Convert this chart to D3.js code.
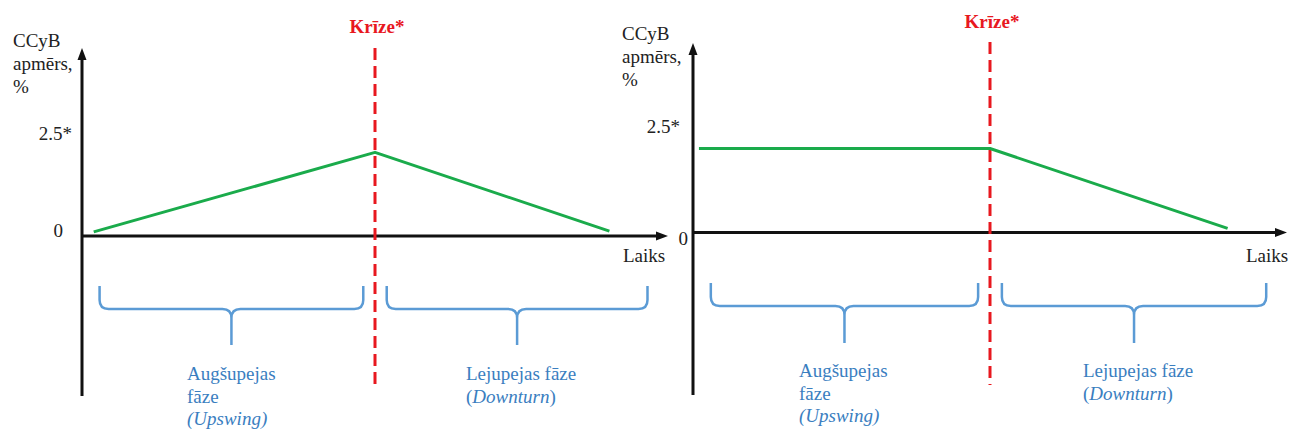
<!DOCTYPE html>
<html>
<head>
<meta charset="utf-8">
<script src="https://cdn.jsdelivr.net/npm/d3@7"></script>
<style>
  html, body { margin: 0; padding: 0; background: #fff; }
  svg { display: block; }
</style>
</head>
<body>
<svg id="chart" width="1291" height="432"></svg>
<script>
// ---- Data ----
const yTickValues = [0, 2.5];
const yTickLabels = ["0", "2.5*"];
const yTitleLines = ["CCyB", "apmērs,", "%"];
const xTitle = "Laiks";
const crisisLabel = "Krīze*";
const crisisTime = 50;
// Left panel: buffer built up gradually during upswing, released after crisis
const leftTimes  = [2, 50, 90];
const leftValues = [0.1, 2.05, 0.12];
// Right panel: buffer kept at a level during upswing, released after crisis
const rightTimes  = [1, 50, 90];
const rightValues = [2.0, 2.0, 0.1];
// Phases (time spans) and labels
const phaseStarts = [3, 52];
const phaseEnds   = [48, 96.5];
const phaseLabelLines = [
  [{t: "Augšupejas"}, {t: "fāze"}, {t: "(Upswing)", italic: true}],
  [{t: "Lejupejas fāze"}, {parts: [{t: "(", i: false}, {t: "Downturn", i: true}, {t: ")", i: false}]}]
];

// ---- Layout ----
const panels = [
  { times: leftTimes, values: leftValues, xRange: [82, 668], zeroY: 236, px25: 102,
    yTop: 48, yBottom: 396, crisisTop: 48, crisisBottom: 385, crisisLabelY: 33,
    titleX: 13, titleY: 47, laiksX: 623, laiksY: 262,
    tickDx: [63, 72], tickDy: [1, 6],
    braceTop: 286, braceMid: 309, braceBottom: 345,
    phaseTextX: [187, 466], phaseTextY: 380 },
  { times: rightTimes, values: rightValues, xRange: [693, 1287], zeroY: 232.5, px25: 105,
    yTop: 43, yBottom: 395, crisisTop: 42, crisisBottom: 385, crisisLabelY: 28,
    titleX: 622, titleY: 40, laiksX: 1246, laiksY: 262,
    tickDx: [688, 680], tickDy: [12.5, 5.5],
    braceTop: 283, braceMid: 306, braceBottom: 343,
    phaseTextX: [799, 1083], phaseTextY: 377 }
];

const FONT = "Liberation Serif";
const svg = d3.select("#chart");
const black = "#111";
const green = "#1aab4b";
const red = "#e8181f";
const braceColor = "#5b9bd5";
const blueText = "#3a7ebf";
const fs = 19;

function txt(g, x, y) {
  return g.append("text").attr("x", x).attr("y", y).attr("font-family", FONT).attr("font-size", fs);
}

panels.forEach(p => {
  const x = d3.scaleLinear().domain([0, 100]).range(p.xRange);
  const y = d3.scaleLinear().domain([0, 2.5]).range([p.zeroY, p.zeroY - p.px25]);
  const g = svg.append("g");
  const x0 = p.xRange[0], x1 = p.xRange[1];

  // Y axis with arrow
  g.append("line").attr("x1", x0).attr("x2", x0).attr("y1", p.yBottom).attr("y2", p.yTop + 8)
    .attr("stroke", black).attr("stroke-width", 3);
  g.append("path").attr("d", `M${x0},${p.yTop} L${x0 - 4.5},${p.yTop + 12} L${x0 + 4.5},${p.yTop + 12} Z`)
    .attr("fill", black);
  // X axis with arrow
  g.append("line").attr("x1", x0).attr("x2", x1 - 8).attr("y1", p.zeroY).attr("y2", p.zeroY)
    .attr("stroke", black).attr("stroke-width", 3);
  g.append("path").attr("d", `M${x1},${p.zeroY} L${x1 - 12},${p.zeroY - 4.5} L${x1 - 12},${p.zeroY + 4.5} Z`)
    .attr("fill", black);

  // Tick labels
  yTickValues.forEach((v, i) => {
    txt(g, p.tickDx[i], y(v) + p.tickDy[i]).attr("text-anchor", "end").attr("fill", "#222").text(yTickLabels[i]);
  });

  // Y title
  const tt = txt(g, p.titleX, p.titleY).attr("fill", "#222");
  yTitleLines.forEach((l, i) => tt.append("tspan").attr("x", p.titleX).attr("dy", i === 0 ? 0 : 23).text(l));

  // X title
  txt(g, p.laiksX, p.laiksY).attr("fill", "#222").text(xTitle);

  // Crisis line
  g.append("line").attr("x1", x(crisisTime)).attr("x2", x(crisisTime))
    .attr("y1", p.crisisTop).attr("y2", p.crisisBottom)
    .attr("stroke", red).attr("stroke-width", 3).attr("stroke-dasharray", "12,6");
  txt(g, x(crisisTime) + 2, p.crisisLabelY).attr("text-anchor", "middle")
    .attr("font-weight", "bold").attr("fill", red).text(crisisLabel);

  // Green line
  const pts = p.times.map((t, i) => [t, p.values[i]]);
  g.append("path").datum(pts)
    .attr("d", d3.line().x(d => x(d[0])).y(d => y(d[1])))
    .attr("fill", "none").attr("stroke", green).attr("stroke-width", 3).attr("stroke-linejoin", "round");

  // Braces
  phaseStarts.forEach((s, i) => {
    const a = x(s), b = x(phaseEnds[i]), m = (a + b) / 2;
    const t = p.braceTop, h = p.braceMid, bt = p.braceBottom, r = 9;
    const d = `M${a},${t} L${a},${h - r} Q${a},${h} ${a + r},${h} L${m - r},${h} Q${m},${h} ${m},${h + r} L${m},${bt}` +
              ` M${m},${h + r} Q${m},${h} ${m + r},${h} L${b - r},${h} Q${b},${h} ${b},${h - r} L${b},${t}`;
    g.append("path").attr("d", d).attr("fill", "none").attr("stroke", braceColor).attr("stroke-width", 2.5);

    const tx = p.phaseTextX[i];
    const T = txt(g, tx, p.phaseTextY).attr("fill", blueText);
    phaseLabelLines[i].forEach((ln, j) => {
      if (ln.parts) {
        ln.parts.forEach((pt, k) => {
          const ts = T.append("tspan").text(pt.t).attr("font-style", pt.i ? "italic" : "normal");
          if (k === 0) ts.attr("x", tx).attr("dy", j === 0 ? 0 : 22.5);
        });
      } else {
        T.append("tspan").attr("x", tx).attr("dy", j === 0 ? 0 : 22.5)
          .attr("font-style", ln.italic ? "italic" : "normal").text(ln.t);
      }
    });
  });
});
</script>
</body>
</html>
